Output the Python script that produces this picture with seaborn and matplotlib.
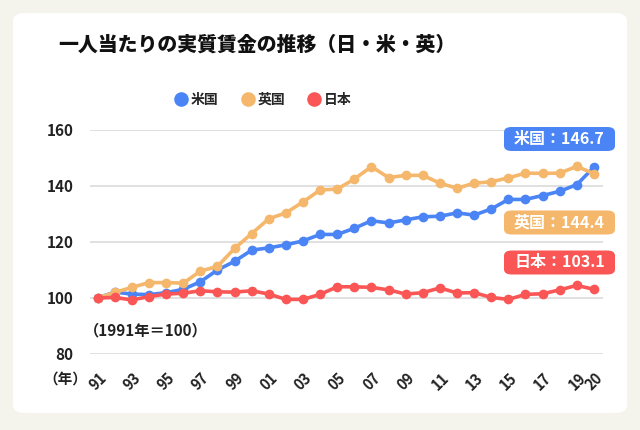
import matplotlib
matplotlib.use("Agg")
import matplotlib.pyplot as plt
from matplotlib.patches import FancyBboxPatch
from matplotlib.lines import Line2D
import seaborn as sns
import pandas as pd

years = list(range(1991, 2021))
us = [100.0, 102.1, 101.4, 101.2, 101.9, 103.1, 105.8, 110.0, 113.1, 117.1,
      117.9, 119.0, 120.4, 122.7, 122.7, 124.9, 127.6, 126.8, 127.9, 129.0,
      129.2, 130.4, 129.6, 131.8, 135.2, 135.2, 136.6, 138.1, 140.5, 146.7]
uk = [100.0, 102.0, 103.8, 105.5, 105.5, 105.3, 109.6, 111.3, 117.7, 123.0,
      128.3, 130.4, 134.3, 138.6, 138.9, 142.5, 146.9, 143.0, 143.8, 143.8,
      141.0, 139.2, 141.0, 141.5, 142.9, 144.6, 144.5, 144.6, 147.0, 144.4]
jp = [100.0, 100.2, 99.3, 100.5, 101.4, 101.7, 102.6, 102.2, 102.1, 102.6,
      101.4, 99.5, 99.5, 101.3, 104.0, 104.0, 103.8, 102.9, 101.4, 101.9,
      103.6, 101.8, 101.9, 100.2, 99.5, 101.3, 101.5, 102.9, 104.5, 103.1]
series_names = ["米国", "英国", "日本"]
colors = ["#4a84f5", "#f4b76b", "#fa5656"]
tick_years = [1991, 1993, 1995, 1997, 1999, 2001, 2003, 2005, 2007, 2009,
              2011, 2013, 2015, 2017, 2019, 2020]
tick_labels = ["91", "93", "95", "97", "99", "01", "03", "05", "07", "09",
               "11", "13", "15", "17", "19", "20"]
y_ticks = [80, 100, 120, 140, 160]
title = "一人当たりの実質賃金の推移（日・米・英）"
note = "（1991年＝100）"
year_unit = "（年）"

df = pd.DataFrame({
    "year": years * 3,
    "value": us + uk + jp,
    "country": [series_names[0]] * 30 + [series_names[1]] * 30 + [series_names[2]] * 30,
})

sns.set_theme(style="white")
plt.rcParams["font.family"] = ["Noto Sans CJK JP", "DejaVu Sans"]

W, H = 640, 430
fig = plt.figure(figsize=(W / 100, H / 100), dpi=100)
fig.patch.set_facecolor("#f4f3ec")

def fx(px):
    return px / W

def fy(py):
    return 1 - py / H

panel = FancyBboxPatch((fx(13), fy(413)), fx(627) - fx(13), fy(13) - fy(413),
                       boxstyle="round,pad=0,rounding_size=0.018",
                       transform=fig.transFigure, facecolor="white",
                       edgecolor="none", zorder=-5)
fig.patches.append(panel)

ax = fig.add_axes([fx(90), fy(354), fx(603) - fx(90), fy(130) - fy(354)])
ax.set_zorder(2)
ax.set_facecolor("none")

palette = dict(zip(series_names, colors))
sns.lineplot(data=df, x="year", y="value", hue="country", hue_order=series_names,
             palette=palette, marker="o", markersize=7, markeredgewidth=0,
             linewidth=2.6, legend=False, ax=ax, clip_on=False, zorder=3)

ax.set_xlim(1990.55, 2020.53)
ax.set_ylim(80, 160)
ax.set_yticks(y_ticks)
ax.set_xticks(tick_years)
ax.set_xticklabels(tick_labels, rotation=45, ha="center", va="center",
                   fontsize=10.5, fontweight="bold", color="#222222")
ax.tick_params(axis="x", length=0, pad=20)
ax.tick_params(axis="y", length=0, pad=12, labelsize=11, labelcolor="#222222")
for lbl in ax.get_yticklabels():
    lbl.set_fontweight("bold")
ax.grid(axis="y", color="#dddddd", linewidth=1.3)
ax.grid(axis="x", visible=False)
for s in ax.spines.values():
    s.set_visible(False)
ax.set_xlabel("")
ax.set_ylabel("")

fig.text(fx(257), fy(45), title, ha="center", va="center", fontsize=14.3,
         fontweight="heavy", color="#111111")

handles = [Line2D([], [], marker="o", linestyle="", markersize=10.5,
                  markerfacecolor=c, markeredgewidth=0) for c in colors]
leg = fig.legend(handles, series_names, loc="center", bbox_to_anchor=(fx(263), fy(100)),
                 ncol=3, frameon=False, handletextpad=0.2, columnspacing=1.6,
                 handlelength=1.0, prop={"size": 10, "weight": "bold"})

fig.text(fx(84), fy(330), note, ha="left", va="center", fontsize=11,
         fontweight="bold", color="#222222")
fig.text(fx(65), fy(379), year_unit, ha="center", va="center", fontsize=10.5,
         fontweight="bold", color="#222222")

last_vals = [us[-1], uk[-1], jp[-1]]
box_centers = [139, 222.5, 262.5]
for name, val, c, cy in zip(series_names, last_vals, colors, box_centers):
    box = FancyBboxPatch((fx(504), fy(cy + 12)), fx(615) - fx(504), fy(cy - 12) - fy(cy + 12),
                         boxstyle="round,pad=0,rounding_size=0.012",
                         transform=fig.transFigure, facecolor=c, edgecolor="none",
                         zorder=5)
    fig.patches.append(box)
    fig.text(fx(559.5), fy(cy), f"{name}：{val}", ha="center", va="center",
             fontsize=11.5, fontweight="bold", color="white", zorder=6)

fig.savefig("out.png", dpi=100, facecolor=fig.get_facecolor())
